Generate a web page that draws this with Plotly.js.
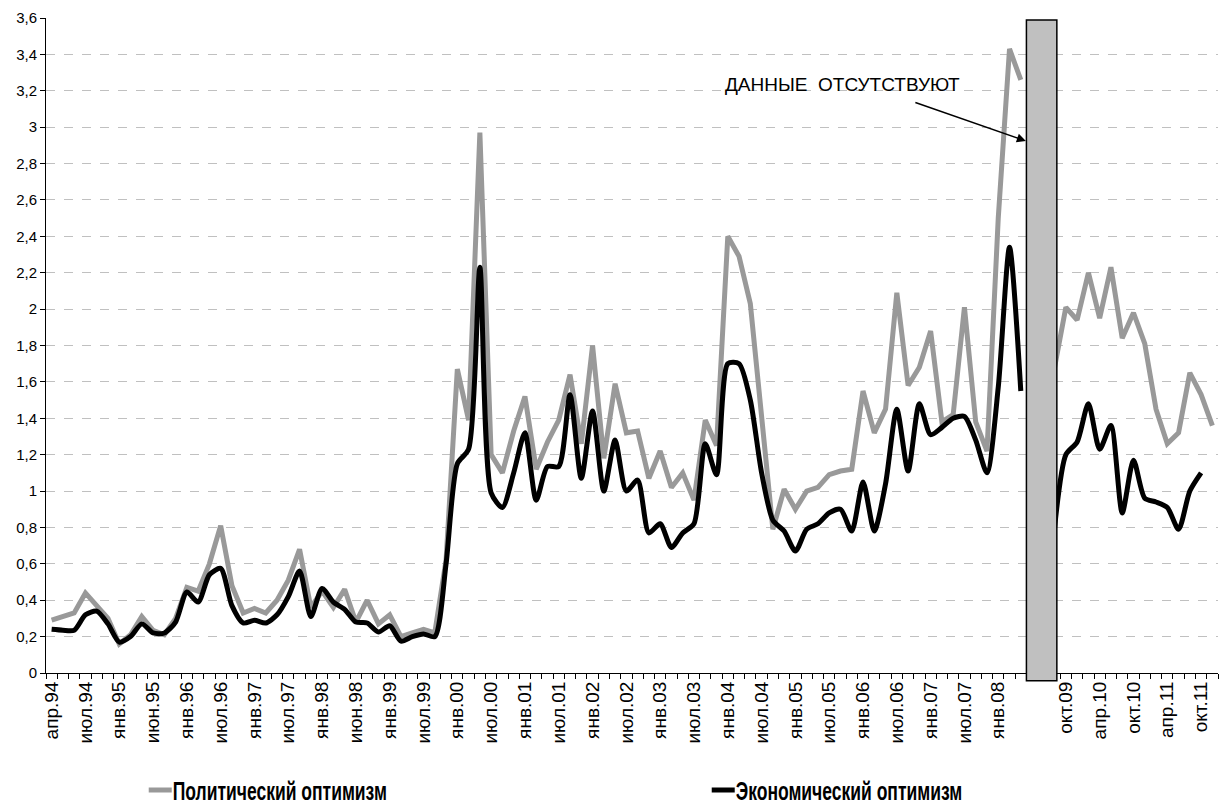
<!DOCTYPE html>
<html>
<head>
<meta charset="utf-8">
<script src="https://cdn.plot.ly/plotly-3.0.1.min.js"></script>
<style>
html,body{margin:0;padding:0;background:#fff;}
#chart{width:1229px;height:807px;}
</style>
</head>
<body>
<div id="chart"></div>
<script>
// Tick labels: one label for every third survey wave ('' = unlabeled slot in the data gap)
const tickLabels = ['апр.94','июл.94','янв.95','июн.95','янв.96','июл.96','янв.97','июл.97','янв.98','июн.98',
  'янв.99','июл.99','янв.00','июл.00','янв.01','июл.01','янв.02','июл.02','янв.03','июл.03',
  'янв.04','июл.04','янв.05','июл.05','янв.06','июл.06','янв.07','июл.07','янв.08','',
  'окт.09','апр.10','окт.10','апр.11','окт.11'];

const political = [0.29,0.31,0.33,0.44,0.37,0.30,0.16,0.21,0.31,0.235,
  0.21,0.30,0.47,0.45,0.60,0.81,0.48,0.33,0.355,0.33,
  0.40,0.51,0.68,0.36,0.45,0.36,0.46,0.28,0.40,0.27,
  0.32,0.20,0.22,0.24,0.22,0.62,1.67,1.39,2.97,1.20,
  1.10,1.33,1.52,1.12,1.27,1.39,1.64,1.26,1.80,1.18,
  1.59,1.32,1.33,1.07,1.22,1.02,1.10,0.95,1.39,1.25,
  2.40,2.29,2.03,1.42,0.79,1.01,0.90,1.00,1.02,1.09,
  1.11,1.12,1.55,1.32,1.45,2.09,1.58,1.68,1.88,1.38,
  1.42,2.01,1.38,1.22,2.50,3.43,3.26,null,null,1.68,
  2.01,1.94,2.20,1.95,2.23,1.84,1.98,1.81,1.45,1.26,
  1.32,1.65,1.53,1.36];

const economic = [0.24,0.235,0.235,0.32,0.34,0.27,0.17,0.20,0.27,0.22,
  0.22,0.28,0.445,0.39,0.54,0.575,0.37,0.275,0.29,0.275,
  0.32,0.42,0.56,0.31,0.465,0.39,0.35,0.28,0.275,0.225,
  0.26,0.175,0.20,0.215,0.20,0.60,1.15,1.23,2.23,0.99,
  0.91,1.10,1.32,0.95,1.135,1.135,1.53,1.07,1.44,1.00,
  1.28,1.00,1.06,0.77,0.82,0.69,0.77,0.82,1.26,1.09,
  1.70,1.70,1.50,1.10,0.84,0.78,0.67,0.79,0.82,0.88,
  0.90,0.78,1.05,0.78,1.04,1.45,1.11,1.48,1.31,1.35,
  1.40,1.41,1.28,1.10,1.57,2.34,1.55,null,null,0.80,
  1.20,1.27,1.48,1.23,1.36,0.88,1.17,0.96,0.94,0.91,
  0.79,1.00,1.10,null];

const seriesNames = ['Политический оптимизм','Экономический оптимизм'];
const noteText = 'ДАННЫЕ\u00a0\u00a0ОТСУТСТВУЮТ';

const xIdx = political.map((_, i) => i);
const tickVals = tickLabels.map((_, k) => k * 3);

const FONT = 'Liberation Sans, Arial, sans-serif';

const traces = [
  {x: xIdx, y: political, name: seriesNames[0], type: 'scatter', mode: 'lines',
   line: {color: '#999999', width: 5}, connectgaps: false},
  {x: xIdx, y: economic, name: seriesNames[1], type: 'scatter', mode: 'lines',
   line: {color: '#000000', width: 5, shape: 'spline', smoothing: 0.7}, connectgaps: false}
];

const layout = {
  width: 1229, height: 807,
  margin: {l: 46, r: 11, t: 18, b: 134, autoexpand: false},
  paper_bgcolor: '#ffffff', plot_bgcolor: '#ffffff',
  separators: ', ',
  font: {family: FONT, color: '#000', size: 14},
  showlegend: true,
  legend: {orientation: 'h', x: 0.074, xanchor: 'left', y: -0.179, yanchor: 'middle',
    entrywidth: 518, entrywidthmode: 'pixels', traceorder: 'normal',
    bgcolor: 'rgba(0,0,0,0)',
    font: {family: FONT, size: 25, weight: 'bold', color: '#000'}},
  xaxis: {range: [-0.5, political.length - 0.5], tickmode: 'array', tickvals: tickVals, ticktext: tickLabels,
    tickangle: -90, ticks: '', showgrid: false, zeroline: false,
    showline: true, linecolor: '#000', linewidth: 1,
    tickfont: {family: FONT, size: 19, color: '#000'},
    minor: {tickmode: 'linear', tick0: -0.5, dtick: 1, ticks: 'outside', ticklen: 5, tickcolor: '#000', tickwidth: 1, showgrid: false}},
  yaxis: {range: [0, 3.6], dtick: 0.2, tick0: 0, ticks: 'outside', ticklen: 5, tickcolor: '#000',
    showline: true, linecolor: '#000', linewidth: 1, zeroline: false,
    showgrid: true, gridcolor: '#c0c0c0', griddash: 'dash', gridwidth: 1,
    tickfont: {family: FONT, size: 15, color: '#000'}},
  shapes: [
    {type: 'rect', xref: 'x', yref: 'paper', x0: 86.5, x1: 89.2, y0: -0.012, y1: 0.997,
     fillcolor: '#c0c0c0', line: {color: '#000', width: 1.5}, layer: 'above'}
  ],
  annotations: [
    {xref: 'x', yref: 'y', x: 70.2, y: 3.232, text: noteText, showarrow: false,
     font: {family: FONT, size: 19, color: '#000'}},
    {xref: 'x', yref: 'y', x: 86.45, y: 2.924, text: '', showarrow: true, axref: 'pixel', ayref: 'pixel',
     ax: -112, ay: -39, arrowhead: 2, arrowsize: 1.2, arrowwidth: 1.5, arrowcolor: '#000'}
  ]
};

// condensed (narrow) legend labels and short line samples, as in the original
function styleLegend() {
  document.querySelectorAll('#chart text.legendtext').forEach(t => {
    if (!t.getAttribute('textLength')) {
      const w = t.getComputedTextLength();
      if (w > 0) {
        t.setAttribute('textLength', (w * 0.7).toFixed(1));
        t.setAttribute('lengthAdjust', 'spacingAndGlyphs');
      }
    }
  });
  document.querySelectorAll('#chart .legendlines path').forEach(p => {
    p.setAttribute('d', 'M16,0h23');
  });
}

Plotly.newPlot('chart', traces, layout, {displayModeBar: false, staticPlot: true}).then(gd => {
  styleLegend();
  gd.on('plotly_afterplot', styleLegend);
  setTimeout(styleLegend, 50);
});
</script>
</body>
</html>
